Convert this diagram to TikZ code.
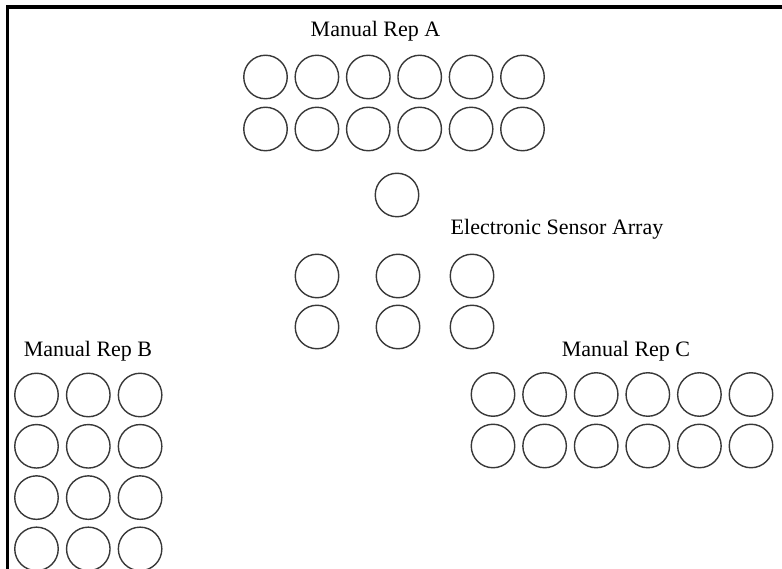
\documentclass[tikz,border=0pt]{standalone}
\usepackage{fontspec}
\setmainfont{Liberation Serif}
\begin{document}
\begin{tikzpicture}[x=1pt,y=-1pt,
  well/.style={circle,draw=black!78,line width=1.4pt,minimum size=43.5pt,inner sep=0pt},
  lbl/.style={anchor=base,inner sep=0pt,font=\fontsize{22}{26}\selectfont},
  frameline/.style={line width=3.4pt,black}]
\useasboundingbox (0,0) rectangle (782,569);
% frame (top and left edges)
\draw[frameline] (7.5,569) -- (7.5,7) -- (782,7);
% Manual Rep A
\node[lbl] (la) at (375.5,37) {Manual Rep A};
\foreach \c in {0,...,5}{
  \foreach \r in {0,1}{
    \node[well] (a-\r-\c) at ({265.5+51.4*\c},{77+52*\r}) {};
  }
}
% Electronic Sensor Array
\node[well] (s-top) at (397,195) {};
\node[lbl] (ls) at (557,235) {Electronic Sensor Array};
\foreach \c/\x in {0/317,1/398,2/472}{
  \foreach \r/\y in {0/276,1/327}{
    \node[well] (s-\r-\c) at (\x,\y) {};
  }
}
% Manual Rep B
\node[lbl] (lb) at (88,356) {Manual Rep B};
\foreach \c in {0,1,2}{
  \foreach \r in {0,...,3}{
    \node[well] (b-\r-\c) at ({36.5+51.8*\c},{395+51.3*\r}) {};
  }
}
% Manual Rep C
\node[lbl] (lc) at (626,356) {Manual Rep C};
\foreach \c in {0,...,5}{
  \foreach \r in {0,1}{
    \node[well] (c-\r-\c) at ({493+51.6*\c},{394.5+51.5*\r}) {};
  }
}
\end{tikzpicture}
\end{document}
